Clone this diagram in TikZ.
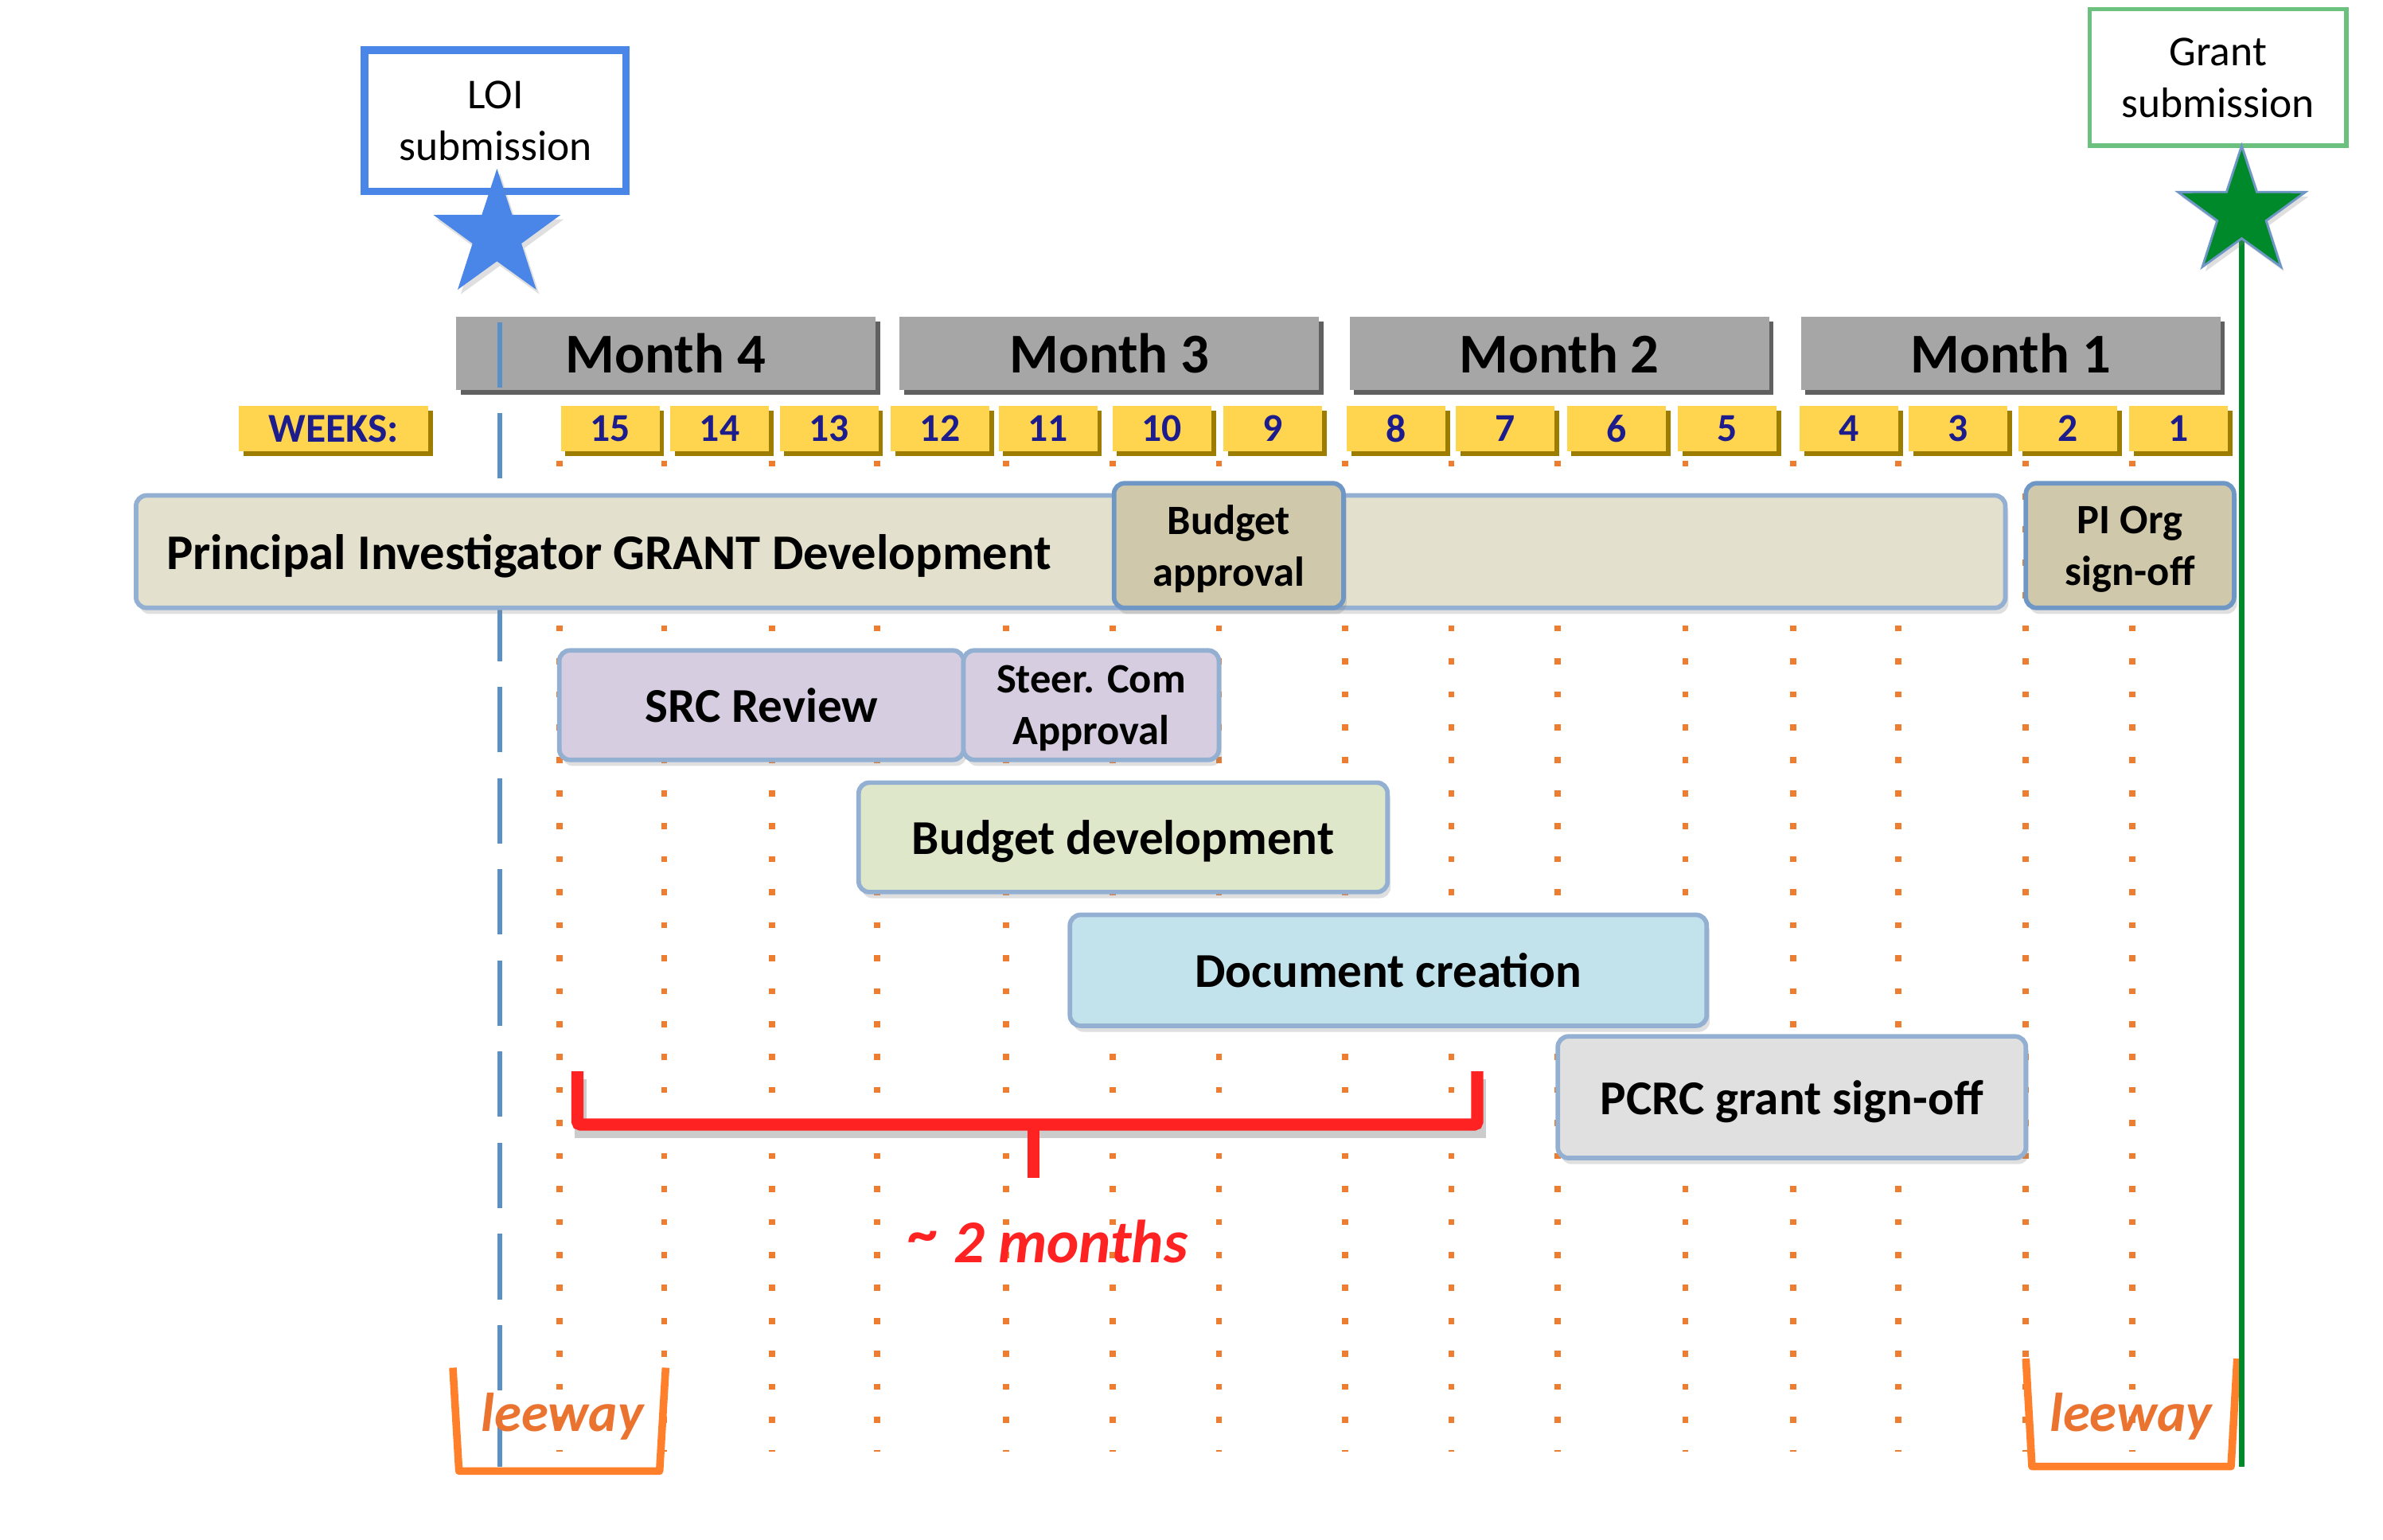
\documentclass[tikz,border=0pt]{standalone}
\usepackage{fontspec}
\setmainfont{Carlito}
\usetikzlibrary{shapes.geometric,shadows}

\definecolor{monthgray}{HTML}{A6A6A6}
\definecolor{monthshade}{HTML}{606060}
\definecolor{weekyellow}{HTML}{FFD54F}
\definecolor{weekshade}{HTML}{9C7D00}
\definecolor{weeknavy}{HTML}{1C1C8C}
\definecolor{gridorange}{HTML}{ED7D31}
\definecolor{loiblue}{HTML}{4A86E8}
\definecolor{grantgreen}{HTML}{6CC17F}
\definecolor{stargreen}{HTML}{00892B}
\definecolor{lineblue}{HTML}{5B90C6}
\definecolor{taskedge}{HTML}{93B0D2}
\definecolor{pifill}{HTML}{E3E0CD}
\definecolor{approvefill}{HTML}{CFC8AB}
\definecolor{approveedge}{HTML}{6E97C6}
\definecolor{srcfill}{HTML}{D6CEE0}
\definecolor{budgetfill}{HTML}{DFE7CB}
\definecolor{docfill}{HTML}{C3E3EC}
\definecolor{pcrcfill}{HTML}{E0E0E0}
\definecolor{bracered}{HTML}{FF2222}
\definecolor{leewayorange}{HTML}{FF7F2A}
\definecolor{leewaytext}{HTML}{EA7330}

\begin{document}
\begin{tikzpicture}[x=1pt, y=-1pt, every node/.style={inner sep=0pt},
 monthbox/.style={fill=monthgray, minimum width=276pt, minimum height=48pt,
   general shadow={fill=monthshade, shadow xshift=3pt, shadow yshift=-3pt},
   font=\fontsize{37}{44}\selectfont\bfseries},
 weekbox/.style={fill=weekyellow, minimum width=65pt, minimum height=30pt,
   general shadow={fill=weekshade, shadow xshift=3pt, shadow yshift=-3pt},
   text=weeknavy, font=\fontsize{26}{30}\selectfont\bfseries},
 task/.style={draw=taskedge, line width=3pt, rounded corners=7pt, align=center, text depth=0pt,
   drop shadow={shadow xshift=2pt, shadow yshift=-4pt, opacity=.25},
   font=\fontsize{32}{38}\selectfont\bfseries},
 approval/.style={task, fill=approvefill, draw=approveedge,
   font=\fontsize{27.5}{34}\selectfont\bfseries},
 milestone/.style={fill=white, align=center, text depth=0pt, font=\fontsize{28}{34}\selectfont},
 weekgrid/.style={gridorange, line width=4pt, dash pattern=on 4pt off 17.7pt},
 leeway/.style={leewayorange, line width=5pt, line join=round},
 leewaylabel/.style={text=leewaytext, text depth=0pt, font=\fontsize{36}{44}\selectfont\bfseries\itshape}]

\useasboundingbox (0,0) rectangle (1568,1013);

% week grid
\foreach \gx in {368,437,508,577,662,732,802,885,955,1025,1109,1180,1249,1333,1403}
  \draw[weekgrid] (\gx,303) -- (\gx,955);

% months and weeks
\node[monthbox] (month4) at (438,232.5) {Month 4};
\node[monthbox] (month3) at (730,232.5) {Month 3};
\node[monthbox] (month2) at (1026,232.5) {Month 2};
\node[monthbox] (month1) at (1323,232.5) {Month 1};

\node[weekbox, minimum width=125pt, font=\fontsize{27}{30}\selectfont\bfseries] (weeks) at (219.5,282) {WEEKS:};
\foreach \wx/\wk in {369/15,441/14,513/13,586/12,657/11,732/10,805/9,886/8,958/7,1031/6,1104/5,1184/4,1256/3,1328/2,1401/1}
  \node[weekbox] (week\wk) at (\wx+32.5,282) {\wk};

% LOI line
\coordinate (loitop) at (329,212);
\coordinate (loibottom) at (329,965);
\draw[lineblue, line width=3pt, dash pattern=on 43pt off 17pt] (loitop) -- (loibottom);

% tasks
\node[task, fill=pifill, anchor=west, minimum width=1230pt, minimum height=74pt, font=\fontsize{32.8}{38}\selectfont\bfseries]
  (pidev) at (88,363) {\makebox[1190pt][l]{Principal Investigator GRANT Development}};
\node[approval, minimum width=151pt, minimum height=82pt] (budgetok) at (808.5,359) {Budget\\approval};
\node[approval, minimum width=137pt, minimum height=82pt] (piorg) at (1401.5,359) {PI Org\\sign-off};
\node[task, fill=srcfill, minimum width=266pt, minimum height=72pt] (src) at (501,464) {SRC Review};
\node[approval, fill=srcfill, draw=taskedge, minimum width=168pt, minimum height=72pt] (steer) at (718,464) {Steer. Com\\Approval};
\node[task, fill=budgetfill, minimum width=348pt, minimum height=72pt] (budgetdev) at (739,551) {Budget development};
\node[task, fill=docfill, minimum width=419pt, minimum height=73pt] (doc) at (913.5,638.5) {Document creation};
\node[task, fill=pcrcfill, minimum width=308pt, minimum height=80pt] (pcrc) at (1179,722) {PCRC grant sign-off};

% two months brace
\coordinate (braceleft) at (380,705);
\coordinate (braceright) at (972,705);
\coordinate (bracemid) at (680,740);
\coordinate (bracetip) at (680,775);
\draw[black, opacity=.2, line width=8pt, transform canvas={shift={(2,5)}}]
  (braceleft) |- (bracemid) -| (braceright);
\draw[bracered, line width=8pt, rounded corners=2pt] (braceleft) |- (bracemid) -| (braceright);
\draw[bracered, line width=8pt] (bracemid) -- (bracetip);
\node[text=bracered, font=\fontsize{40}{48}\selectfont\bfseries\itshape] (twomonths) at (690,817)
  {\raisebox{6pt}{\textasciitilde}{} 2 months};

% leeway
\draw[leeway] (298,900) -- (302,968) -- (434,968) -- (438,900);
\node[leewaylabel] (leewayleft) at (370,929) {leeway};
\draw[leeway] (1333,894) -- (1337,965) -- (1468,965) -- (1472,894);
\node[leewaylabel] (leewayright) at (1402,929) {leeway};

% milestones
\node[milestone, draw=loiblue, line width=5pt, minimum width=172pt, minimum height=93pt] (loi) at (326,79.5) {LOI\\submission};
\node[star, star points=5, star point ratio=2.6, minimum size=88pt, fill=loiblue,
  drop shadow={shadow xshift=2pt, shadow yshift=-3pt, opacity=.25}] (loistar) at (327,155) {};

\coordinate (grantpin) at (1475,140);
\coordinate (grantbottom) at (1475,965);
\draw[stargreen, line width=3.5pt] (grantpin) -- (grantbottom);
\node[milestone, draw=grantgreen, line width=3pt, minimum width=169pt, minimum height=90pt] (grant) at (1459.5,51) {Grant\\submission};
\node[star, star points=5, star point ratio=2.6, minimum size=88pt, fill=stargreen, draw=approveedge, line width=1.5pt,
  drop shadow={shadow xshift=2pt, shadow yshift=-3pt, opacity=.25}] (grantstar) at (grantpin) {};
\end{tikzpicture}
\end{document}
